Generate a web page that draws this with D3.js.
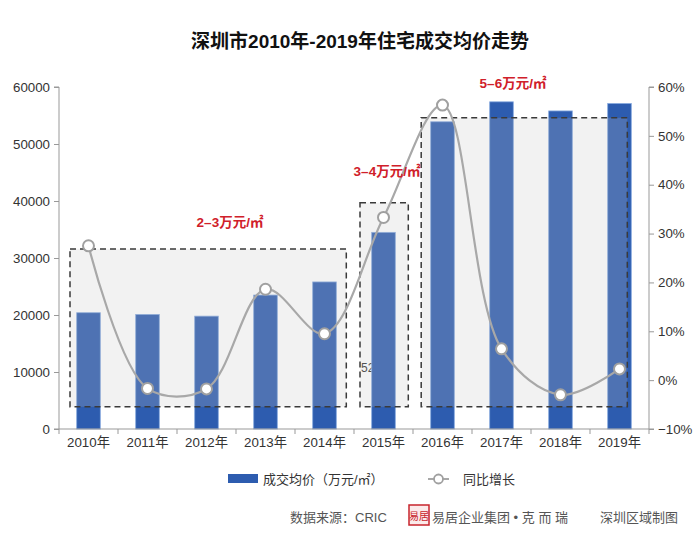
<!DOCTYPE html>
<html><head><meta charset="utf-8">
<script src="https://cdn.jsdelivr.net/npm/d3@7"></script>
<style>
html,body{margin:0;padding:0;background:#fff;}
svg{display:block;font-family:"Liberation Sans","Noto Sans CJK SC",sans-serif;}
</style></head>
<body><svg id="c" width="700" height="544"></svg>
<script>
const years = ['2010年','2011年','2012年','2013年','2014年','2015年','2016年','2017年','2018年','2019年'];
const prices = [20400, 20100, 19800, 23500, 25800, 34500, 53900, 57400, 55800, 57100];
const growth = [27.5, -1.7, -1.8, 18.6, 9.5, 33.3, 56.3, 6.4, -3.0, 2.3];
const leftTicks = [0, 10000, 20000, 30000, 40000, 50000, 60000];
const rightTicks = [-10, 0, 10, 20, 30, 40, 50, 60];
const rangeLabels = ['2–3万元/㎡', '3–4万元/㎡', '5–6万元/㎡'];
const rangeFrom = [0, 5, 6];
const rangeTo = [4, 5, 9];
const rangeTop = [31600, 39700, 54600];
const rangeBottom = [3900, 3900, 3900];

const svg = d3.select('#c');
const L = 59, R = 649, T = 87, B = 429;
const step = (R - L) / years.length;
const xb = d3.scaleBand().domain(years).range([L, R]).paddingInner(0).paddingOuter(0);
const bw = step * 0.4;
const cx = d => xb(d) + step / 2;
const y = d3.scaleLinear().domain([0, 60000]).range([B, T]);
const y2 = d3.scaleLinear().domain([-10, 60]).range([B, T]);

// title
svg.append('text').attr('x', 360).attr('y', 48).attr('text-anchor', 'middle')
  .attr('font-size', 19).attr('font-weight', 'bold').attr('fill', '#111')
  .text('深圳市2010年-2019年住宅成交均价走势');

// hidden leftover label behind 2015 bar
svg.append('text').attr('x', 361).attr('y', 372).attr('font-size', 12).attr('fill', '#333').text('52');

// bars
svg.append('g').selectAll('rect').data(years).join('rect')
  .attr('x', d => cx(d) - bw / 2).attr('width', bw)
  .attr('y', (d, i) => y(prices[i])).attr('height', (d, i) => B - y(prices[i]))
  .attr('fill', '#2d5caf').attr('stroke', '#86a8de').attr('stroke-width', 0.8);

// range boxes
const padL = [-6.7, -11.7, -9.5], padR = [10, 13, -4];
const boxes = svg.append('g');
rangeLabels.forEach((lab, i) => {
  const x0 = cx(years[rangeFrom[i]]) - bw / 2 + padL[i];
  const x1 = cx(years[rangeTo[i]]) + bw / 2 + padR[i];
  boxes.append('rect').attr('x', x0).attr('y', y(rangeTop[i]))
    .attr('width', x1 - x0).attr('height', y(rangeBottom[i]) - y(rangeTop[i]))
    .attr('fill', '#c4c4c4').attr('fill-opacity', 0.22)
    .attr('stroke', '#3a3a3a').attr('stroke-width', 1.5).attr('stroke-dasharray', '6,4');
});

// axes
const axL = svg.append('g').attr('transform', `translate(${L},0)`)
  .call(d3.axisLeft(y).tickValues(leftTicks).tickSize(5).tickPadding(4).tickFormat(d => d));
const axR = svg.append('g').attr('transform', `translate(${R},0)`)
  .call(d3.axisRight(y2).tickValues(rightTicks).tickSize(5).tickPadding(4).tickFormat(d => (d < 0 ? '−' + Math.abs(d) : d) + '%'));
const axB = svg.append('g').attr('transform', `translate(0,${B})`)
  .call(d3.axisBottom(xb).tickSize(0).tickPadding(9));
axB.selectAll('.tick').append('line').attr('x1', step / 2).attr('x2', step / 2).attr('y1', 0).attr('y2', 5).attr('stroke', '#999');
axB.append('line').attr('x1', L).attr('x2', L).attr('y1', 0).attr('y2', 5).attr('stroke', '#999');
[axL, axR, axB].forEach(a => {
  a.select('.domain').attr('stroke', '#999');
  a.selectAll('.tick line').attr('stroke', '#999');
  a.selectAll('text').attr('font-size', 13.3).attr('fill', '#333').attr('font-family', '"Liberation Sans","Noto Sans CJK SC",sans-serif');
});
axL.select('.domain').attr('d', `M-5,${T}H0V${B}H-5`);
axR.select('.domain').attr('d', `M5,${T}H0V${B}H5`);
axB.select('.domain').attr('d', `M${L},0H${R}`);

// growth line
const line = d3.line().x((d, i) => cx(years[i])).y(d => y2(d)).curve(d3.curveCatmullRom.alpha(0.5));
svg.append('path').datum(growth).attr('d', line).attr('fill', 'none')
  .attr('stroke', '#a8a8a8').attr('stroke-width', 2.2);
svg.append('g').selectAll('circle').data(growth).join('circle')
  .attr('cx', (d, i) => cx(years[i])).attr('cy', d => y2(d)).attr('r', 5.5)
  .attr('fill', '#fff').attr('stroke', '#a0a0a0').attr('stroke-width', 2);

// red range labels
const labPos = [[230, 227], [387, 176], [513, 88]];
rangeLabels.forEach((lab, i) => {
  svg.append('text').attr('x', labPos[i][0]).attr('y', labPos[i][1]).attr('text-anchor', 'middle')
    .attr('font-size', 13.5).attr('font-weight', 'bold').attr('fill', '#d0202a').text(lab);
});

// legend
const lg = svg.append('g');
lg.append('rect').attr('x', 228).attr('y', 474).attr('width', 30).attr('height', 9).attr('fill', '#2d5caf');
lg.append('text').attr('x', 263).attr('y', 484).attr('font-size', 13).attr('fill', '#333').text('成交均价（万元/㎡）');
lg.append('line').attr('x1', 428).attr('x2', 449).attr('y1', 479).attr('y2', 479).attr('stroke', '#a8a8a8').attr('stroke-width', 2);
lg.append('circle').attr('cx', 438.5).attr('cy', 479).attr('r', 4.5).attr('fill', '#fff').attr('stroke', '#a0a0a0').attr('stroke-width', 1.8);
lg.append('text').attr('x', 463).attr('y', 484).attr('font-size', 13).attr('fill', '#333').text('同比增长');

// footer
const ft = svg.append('g').attr('fill', '#555').attr('font-size', 13);
ft.append('text').attr('x', 290).attr('y', 522).text('数据来源：CRIC');
ft.append('rect').attr('x', 409).attr('y', 505).attr('width', 20).attr('height', 20).attr('fill', '#fbeaea').attr('stroke', '#c8242c').attr('stroke-width', 1.5);
ft.append('text').attr('x', 419).attr('y', 520).attr('text-anchor', 'middle').attr('font-size', 10).attr('fill', '#c8242c').text('易居');
ft.append('text').attr('x', 432).attr('y', 522).text('易居企业集团 • 克  而  瑞');
ft.append('text').attr('x', 600).attr('y', 522).text('深圳区域制图');
</script></body></html>
